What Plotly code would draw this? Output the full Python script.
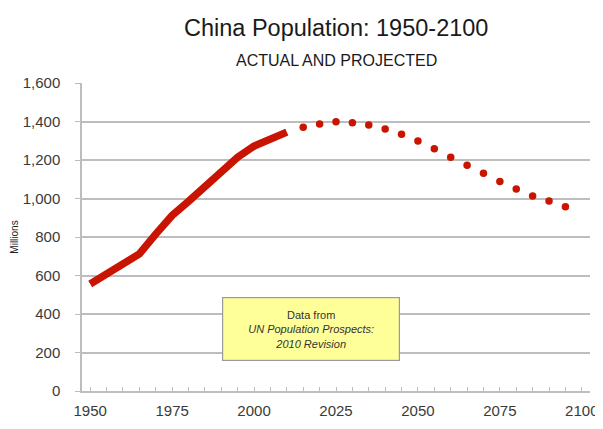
import plotly.graph_objects as go

# Actual population (millions), 1950-2010
actual_years = [1950, 1955, 1960, 1965, 1970, 1975, 1980, 1985, 1990, 1995, 2000, 2005, 2010]
actual_values = [556, 610, 660, 712, 815, 912, 985, 1060, 1145, 1215, 1272, 1312, 1345]

# Projected population (millions), 2015-2095
proj_years = [2015, 2020, 2025, 2030, 2035, 2040, 2045, 2050, 2055, 2060, 2065, 2070, 2075, 2080, 2085, 2090, 2095]
proj_values = [1370, 1387, 1399, 1394, 1382, 1361, 1334, 1299, 1259, 1214, 1173, 1131, 1088, 1049, 1013, 987, 957]

x_tick_vals = [1950, 1975, 2000, 2025, 2050, 2075, 2100]
y_tick_vals = [0, 200, 400, 600, 800, 1000, 1200, 1400, 1600]
y_tick_text = ["0", "200", "400", "600", "800", "1,000", "1,200", "1,400", "1,600"]

RED = "#C81400"
GRID = "#BDBDBD"
FONT = "Liberation Sans, Arial, sans-serif"
TXT = "#3a3a3a"

fig = go.Figure()
fig.add_trace(go.Scatter(
    x=actual_years, y=actual_values, mode="lines",
    line=dict(color=RED, width=7.5), showlegend=False, hoverinfo="skip"))
fig.add_trace(go.Scatter(
    x=proj_years, y=proj_values, mode="markers",
    marker=dict(color=RED, size=7.5), showlegend=False, hoverinfo="skip"))

# page body has an 8px margin, so the figure is sized to fit the window after it
fig.update_layout(
    width=595, height=421,
    margin=dict(l=74, r=13, t=75, b=38),
    paper_bgcolor="white", plot_bgcolor="white",
    font=dict(family=FONT, color=TXT),
    xaxis=dict(
        range=[1947.5, 2102.5], tickmode="array", tickvals=x_tick_vals,
        ticks="inside", ticklen=4, tickcolor=GRID, tickwidth=1,
        minor=dict(dtick=5, tick0=1950, ticks="inside", ticklen=4, tickcolor=GRID, showgrid=False),
        showgrid=False, showline=True, linecolor=GRID, linewidth=1.5,
        zeroline=False, tickfont=dict(size=15, color=TXT), ticklabelstandoff=5,
        automargin=False),
    yaxis=dict(
        range=[0, 1600], tickmode="array", tickvals=y_tick_vals, ticktext=y_tick_text,
        ticks="outside", ticklen=5, tickcolor=GRID,
        showgrid=True, gridcolor=GRID, gridwidth=1.5,
        showline=True, linecolor=GRID, linewidth=1.5, zeroline=False,
        tickfont=dict(size=15, color=TXT), ticklabelstandoff=12,
        title=dict(text="Millions", font=dict(size=10, color="#222222"), standoff=2),
        automargin=False),
)

fig.add_annotation(
    text="China Population: 1950-2100", xref="paper", yref="paper",
    x=0.5, y=1, yshift=55, xanchor="center", yanchor="middle", showarrow=False,
    font=dict(size=23.5, color="#1a1a1a", family=FONT))
fig.add_annotation(
    text="ACTUAL AND PROJECTED", xref="paper", yref="paper",
    x=0.5, y=1, yshift=23, xanchor="center", yanchor="middle", showarrow=False,
    font=dict(size=16, color="#1a1a1a", family=FONT))
fig.add_annotation(
    text="Data from<br><i>UN Population Prospects:</i><br><i>2010 Revision</i>",
    x=2017.3, y=322, xref="x", yref="y", showarrow=False,
    bgcolor="#FFFF99", bordercolor="#9A9A9A", borderwidth=1.2, borderpad=6,
    width=164, height=50,
    font=dict(size=11, color="#333333", family=FONT))

fig.write_html("out.html")
